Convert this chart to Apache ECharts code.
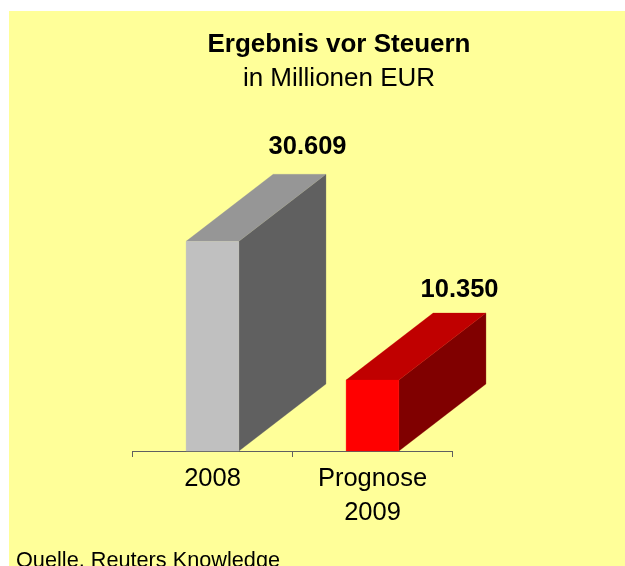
<!DOCTYPE html>
<html>
<head>
<meta charset="utf-8">
<title>Ergebnis vor Steuern</title>
<style>
html, body { margin: 0; padding: 0; background: #fff; overflow: hidden; }
#graph { width: 625px; height: 566px; }
</style>
<script src="https://cdn.jsdelivr.net/npm/echarts@6/dist/echarts.min.js"></script>
</head>
<body>
<div id="graph"></div>
<script>
"use strict"

const categories = ["2008", "Prognose\n2009"];
const values = [30609, 10350];
const valueLabels = ["30.609", "10.350"];

const frontColors = ["#C0C0C0", "#FF0000"];
const topColors = ["#969696", "#C00000"];
const sideColors = ["#606060", "#800000"];

const font = "Liberation Sans";
const barRatio = 0.33, depthX = 0.544, depthY = 0.419;
const labelShift = [[8, 27], [0, 23]];

function face(points, color)
{
    return { type: "polygon", shape: { points }, style: { fill: color, stroke: color, lineWidth: 0.3 } };
}

function drawBox(params, api)
{
    const idx = params.dataIndex;
    const base = api.coord([api.value(0), 0]);
    const top = api.coord([api.value(0), api.value(1)]);
    const band = api.size([1, 0])[0];
    const hw = band * barRatio / 2, dx = band * depthX, dy = band * depthY;
    const l = base[0] - hw, r = base[0] + hw, y0 = base[1], y1 = top[1];
    return {
        type: "group",
        children: [
            face([[r, y0], [r + dx, y0 - dy], [r + dx, y1 - dy], [r, y1]], sideColors[idx]),
            face([[l, y1], [r, y1], [r + dx, y1 - dy], [l + dx, y1 - dy]], topColors[idx]),
            face([[l, y0], [r, y0], [r, y1], [l, y1]], frontColors[idx]),
            {
                type: "text",
                style: {
                    text: valueLabels[idx],
                    x: base[0] + dx + labelShift[idx][0],
                    y: y1 - dy - labelShift[idx][1],
                    align: "center",
                    verticalAlign: "middle",
                    fill: "#000",
                    font: `bold 25.5px "${font}"`
                }
            }
        ]
    };
}

const myChart = echarts.init(document.getElementById("graph"), null, { renderer: "canvas" });
myChart.setOption({
    animation: false,
    backgroundColor: "#fff",
    graphic: [{
        type: "rect",
        z: -10,
        shape: { x: 9, y: 11, width: 616, height: 555 },
        style: { fill: "#FFFF99" }
    }],
    title: [
        {
            text: "Ergebnis vor Steuern",
            subtext: "in Millionen EUR",
            left: 339,
            top: 32,
            textAlign: "center",
            itemGap: 8,
            padding: 0,
            textStyle: { fontFamily: font, fontSize: 26, fontWeight: "bold", color: "#000" },
            subtextStyle: { fontFamily: font, fontSize: 26, color: "#000" }
        },
        {
            text: "Quelle, Reuters Knowledge",
            left: 16,
            top: 550,
            padding: 0,
            textStyle: { fontFamily: font, fontSize: 21.7, fontWeight: "normal", color: "#000" }
        }
    ],
    grid: { left: 132.5, width: 320, top: 177, height: 274 },
    xAxis: {
        type: "category",
        data: categories,
        axisLine: { lineStyle: { color: "#606060", width: 1 } },
        axisTick: { show: true, length: 6, lineStyle: { color: "#606060" } },
        axisLabel: { color: "#000", fontFamily: font, fontSize: 25.5, lineHeight: 34, margin: 11 }
    },
    yAxis: { type: "value", min: 0, max: 40000, show: false, splitLine: { show: false } },
    series: [{
        type: "custom",
        renderItem: drawBox,
        clip: false,
        encode: { x: 0, y: 1 },
        data: values.map((v, i) => [i, v])
    }]
});
</script>
</body>
</html>
